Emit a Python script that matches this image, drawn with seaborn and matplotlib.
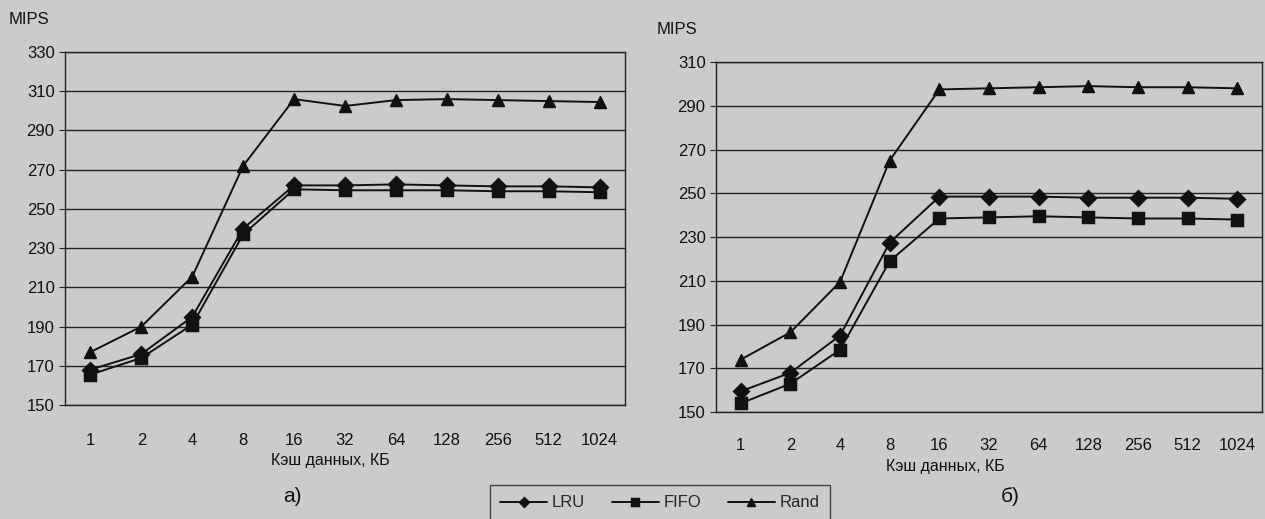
import matplotlib
matplotlib.use("Agg")
import matplotlib.pyplot as plt
import seaborn as sns
import pandas as pd

cache_kb = ['1', '2', '4', '8', '16', '32', '64', '128', '256', '512', '1024']
policies = ['LRU', 'FIFO', 'Rand']

# chart a)
lru_a = [168, 176, 195, 240, 262, 262, 262.5, 262, 261.5, 261.5, 261]
fifo_a = [165.5, 174, 191, 237, 260, 259.5, 259.5, 259.5, 259, 259, 258.5]
rand_a = [177, 190, 215.5, 272, 306, 302.5, 305.5, 306, 305.5, 305, 304.5]

# chart b)
lru_b = [159.5, 168, 185, 227.5, 248.5, 248.5, 248.5, 248, 248, 248, 247.5]
fifo_b = [154, 163, 178.5, 219, 238.5, 239, 239.5, 239, 238.5, 238.5, 238]
rand_b = [174, 186.5, 209.5, 265, 297.5, 298, 298.5, 299, 298.5, 298.5, 298]

bg = '#cbcbcb'


def to_frame(lru, fifo, rand):
    rows = []
    for name, vals in zip(policies, [lru, fifo, rand]):
        for c, v in zip(cache_kb, vals):
            rows.append({'cache': c, 'mips': v, 'policy': name})
    return pd.DataFrame(rows)


sns.set_style("white")
plt.rcParams['font.family'] = ['Liberation Sans', 'DejaVu Sans']

fig = plt.figure(figsize=(12.65, 5.19), dpi=100, facecolor=bg)
ax1 = fig.add_axes([0.0514, 0.2197, 0.4427, 0.680])
ax2 = fig.add_axes([0.566, 0.206, 0.4316, 0.6744])


def draw(ax, df, ymin, ymax, pad):
    sns.pointplot(data=df, x='cache', y='mips', hue='policy', order=cache_kb,
                  hue_order=policies, markers=['D', 's', '^'],
                  linestyles=['-', '-', '-'], palette=['#111111'] * 3,
                  errorbar=None, markersize=8, linewidth=1.4, ax=ax)
    ax.set_facecolor(bg)
    ax.set_ylim(ymin, ymax)
    ax.set_yticks(range(ymin, ymax + 1, 20))
    ax.set_xlim(-0.5, len(cache_kb) - 0.5)
    ax.yaxis.grid(True, color='#222222', linewidth=1.0)
    ax.set_axisbelow(True)
    for s in ax.spines.values():
        s.set_color('#222222')
        s.set_linewidth(1.0)
    ax.set_xticks([i + 0.5 for i in range(-1, len(cache_kb))], minor=True)
    ax.tick_params(axis='x', which='major', length=0, pad=pad, labelsize=12,
                   colors='#111111')
    ax.tick_params(axis='x', which='minor', length=4, color='#222222',
                   direction='out')
    ax.tick_params(axis='y', length=4, color='#222222', labelsize=12,
                   colors='#111111', left=True)
    ax.set_xlabel('')
    ax.set_ylabel('')
    ax.get_legend().remove()


draw(ax1, to_frame(lru_a, fifo_a, rand_a), 150, 330, 20)
draw(ax2, to_frame(lru_b, fifo_b, rand_b), 150, 310, 19)

handles, labels = ax1.get_legend_handles_labels()

fig.text(9 / 1265, 1 - 20 / 519, 'MIPS', fontsize=12, color='#111111',
         va='center', ha='left')
fig.text(657 / 1265, 1 - 30 / 519, 'MIPS', fontsize=12, color='#111111',
         va='center', ha='left')
fig.text(330 / 1265, 1 - 461 / 519, 'Кэш данных, КБ', fontsize=11.5,
         color='#111111', ha='center', va='center')
fig.text(945 / 1265, 1 - 467 / 519, 'Кэш данных, КБ', fontsize=11.5,
         color='#111111', ha='center', va='center')
fig.text(292 / 1265, 1 - 497 / 519, 'а)', fontsize=15, color='#111111',
         ha='center', va='center')
fig.text(1010 / 1265, 1 - 497 / 519, 'б)', fontsize=15, color='#111111',
         ha='center', va='center')

leg = fig.legend(handles, labels, loc='upper center',
                 bbox_to_anchor=(660 / 1265, 1 - 477 / 519), ncol=3,
                 frameon=True, fancybox=False, edgecolor='#222222',
                 facecolor=bg, fontsize=12, handlelength=2.8,
                 columnspacing=1.6, handletextpad=0.3, borderpad=0.6,
                 markerscale=0.7)
leg.get_frame().set_linewidth(1.0)

fig.savefig('out.png', dpi=100, facecolor=bg)
